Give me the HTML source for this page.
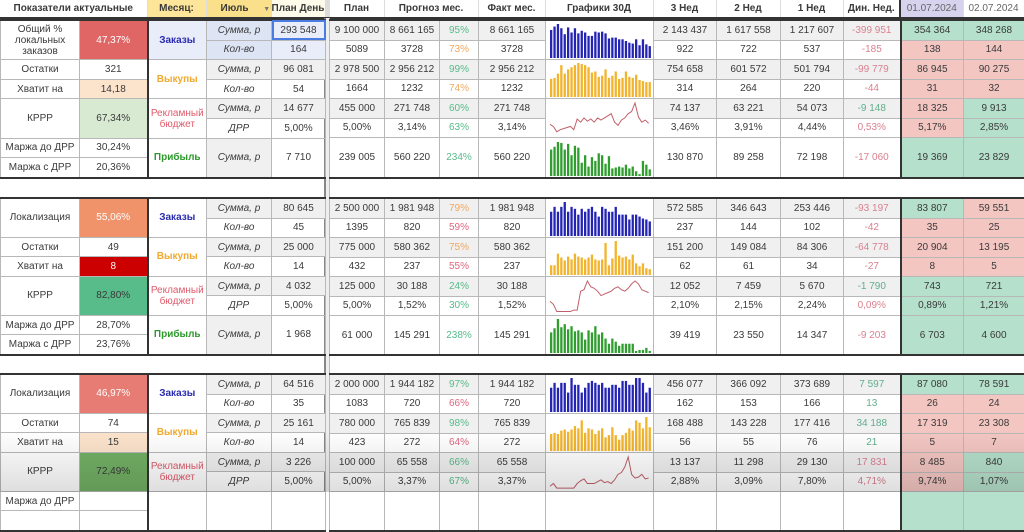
<!DOCTYPE html>
<html><head><meta charset="utf-8">
<style>
body{margin:0;width:1024px;height:492px;overflow:hidden;background:#fff;font-family:"Liberation Sans",sans-serif;font-size:10px;color:#3a3a3a;position:relative}
table{position:absolute;border-collapse:collapse;table-layout:fixed}
td{border:1px solid #b8b8b8;text-align:center;padding:0;overflow:hidden;white-space:nowrap;height:18px;line-height:11px}
tr.a td:not([rowspan]){border-bottom:1px dashed #8a8a8a}
.blk{border-top:2px solid #333;border-bottom:2px solid #333}
.th{border-right:2px solid #333}
.dl{border-left:2px solid #333}
.g{background:#f0f0f0}.G{background:#b5e0cb}.R{background:#f3c6c2}
.pg{color:#57bb8a}.po{color:#f0a860}.pr{color:#e06680}.dr{color:#d9808f}.dg{color:#5fae8c}
.i{font-style:italic}
.cz{color:#2b2bb0;font-weight:bold}.cv{color:#f0aa30;font-weight:bold}.cr{color:#e05a6a}.cp{color:#2e9a2e;font-weight:bold}
.hd td{font-weight:bold;height:17px;border:none;border-right:1px solid #ddd}
svg{display:block;margin:0 auto}
</style></head><body>

<table class="hd" style="left:0;top:0;width:1024px;border-bottom:2px solid #333">
<colgroup><col style="width:147px"><col style="width:59px"><col style="width:65px"><col style="width:54px"><col style="width:4px"><col style="width:55px"><col style="width:94px"><col style="width:67px"><col style="width:108px"><col style="width:63px"><col style="width:64px"><col style="width:63px"><col style="width:57px"><col style="width:63px"><col style="width:61px"></colgroup>
<tr><td>Показатели актуальные</td><td style="background:#fde59a">Месяц:</td><td style="background:#fbe08c;text-align:left;padding-left:14px">Июль <span style="font-size:7px;color:#777;margin-left:12px">▼</span></td><td style="background:#fffbea">План День</td><td style="background:#ddd"></td><td>План</td><td>Прогноз мес.</td><td>Факт мес.</td><td>Графики 30Д</td><td>3 Нед</td><td>2 Нед</td><td>1 Нед</td><td>Дин. Нед.</td><td style="background:#d7d3ee;color:#666;font-weight:normal;border-left:2px solid #333">01.07.2024</td><td style="color:#666;font-weight:normal">02.07.2024</td></tr>
</table>

<div style="position:absolute;left:324px;top:18px;width:2px;height:474px;background:#888"></div>
<div style="position:absolute;left:326px;top:18px;width:3px;height:474px;background:#eee;border-right:1px solid #bbb"></div>

<!-- BLOCK 1 LEFT -->
<table class="blk" style="left:0;top:19px;width:325px;height:160px">
<colgroup><col style="width:79px"><col style="width:68px"><col style="width:59px"><col style="width:65px"><col style="width:54px"></colgroup>
<tr class="a"><td rowspan="2">Общий %<br>локальных<br>заказов</td><td rowspan="2" class="th" style="background:#e06666;color:#fff">47,37%</td><td rowspan="2" class="cz" style="background:#e8edf9">Заказы</td><td class="i" style="background:#dde4f4">Сумма, р</td><td style="background:#e8edf9;outline:2px solid #4a7be0;outline-offset:-2px">293 548</td></tr>
<tr><td class="i" style="background:#dde4f4">Кол-во</td><td style="background:#e8edf9">164</td></tr>
<tr class="a"><td>Остатки</td><td class="th">321</td><td rowspan="2" class="cv">Выкупы</td><td class="i g">Сумма, р</td><td class="g">96 081</td></tr>
<tr><td>Хватит на</td><td class="th" style="background:#fce3cc">14,18</td><td class="i">Кол-во</td><td>54</td></tr>
<tr class="a"><td rowspan="2">КРРР</td><td rowspan="2" class="th" style="background:#d9ead3">67,34%</td><td rowspan="2" class="cr">Рекламный<br>бюджет</td><td class="i g">Сумма, р</td><td class="g">14 677</td></tr>
<tr><td class="i">ДРР</td><td>5,00%</td></tr>
<tr><td>Маржа до ДРР</td><td class="th">30,24%</td><td rowspan="2" class="cp">Прибыль</td><td rowspan="2" class="i g">Сумма, р</td><td rowspan="2">7 710</td></tr>
<tr><td>Маржа с ДРР</td><td class="th">20,36%</td></tr>
</table>

<!-- BLOCK 1 RIGHT -->
<table class="blk" style="left:329px;top:19px;width:695px;height:160px">
<colgroup><col style="width:55px"><col style="width:55px"><col style="width:39px"><col style="width:67px"><col style="width:108px"><col style="width:63px"><col style="width:64px"><col style="width:63px"><col style="width:57px"><col style="width:63px"><col style="width:61px"></colgroup>
<tr class="a g"><td>9 100 000</td><td>8 661 165</td><td class="pg">95%</td><td>8 661 165</td><td rowspan="2" style="background:#fff"><svg id="c1" width="104" height="38"></svg></td><td>2 143 437</td><td>1 617 558</td><td>1 217 607</td><td class="dr">-399 951</td><td class="G dl">354 364</td><td class="G">348 268</td></tr>
<tr><td>5089</td><td>3728</td><td class="po">73%</td><td>3728</td><td>922</td><td>722</td><td>537</td><td class="dr">-185</td><td class="R dl">138</td><td class="R">144</td></tr>
<tr class="a g"><td>2 978 500</td><td>2 956 212</td><td class="pg">99%</td><td>2 956 212</td><td rowspan="2" style="background:#fff"><svg id="c2" width="104" height="38"></svg></td><td>754 658</td><td>601 572</td><td>501 794</td><td class="dr">-99 779</td><td class="R dl">86 945</td><td class="R">90 275</td></tr>
<tr><td>1664</td><td>1232</td><td class="po">74%</td><td>1232</td><td>314</td><td>264</td><td>220</td><td class="dr">-44</td><td class="R dl">31</td><td class="R">32</td></tr>
<tr class="a g"><td>455 000</td><td>271 748</td><td class="pg">60%</td><td>271 748</td><td rowspan="2" style="background:#fff"><svg id="c3" width="104" height="38"></svg></td><td>74 137</td><td>63 221</td><td>54 073</td><td class="dg">-9 148</td><td class="R dl">18 325</td><td class="G">9 913</td></tr>
<tr><td>5,00%</td><td>3,14%</td><td class="pg">63%</td><td>3,14%</td><td>3,46%</td><td>3,91%</td><td>4,44%</td><td class="dr">0,53%</td><td class="R dl">5,17%</td><td class="G">2,85%</td></tr>
<tr><td rowspan="2">239 005</td><td rowspan="2">560 220</td><td rowspan="2" class="pg">234%</td><td rowspan="2">560 220</td><td rowspan="2"><svg id="c4" width="104" height="38"></svg></td><td rowspan="2">130 870</td><td rowspan="2">89 258</td><td rowspan="2">72 198</td><td rowspan="2" class="dr">-17 060</td><td rowspan="2" class="G dl">19 369</td><td rowspan="2" class="G">23 829</td></tr>
<tr></tr>
</table>

<!-- BLOCK 2 LEFT -->
<table class="blk" style="left:0;top:197px;width:325px;height:159px">
<colgroup><col style="width:79px"><col style="width:68px"><col style="width:59px"><col style="width:65px"><col style="width:54px"></colgroup>
<tr class="a"><td rowspan="2">Локализация</td><td rowspan="2" class="th" style="background:#f0936b;color:#fff">55,06%</td><td rowspan="2" class="cz">Заказы</td><td class="i g">Сумма, р</td><td class="g">80 645</td></tr>
<tr><td class="i">Кол-во</td><td>45</td></tr>
<tr class="a"><td>Остатки</td><td class="th">49</td><td rowspan="2" class="cv">Выкупы</td><td class="i g">Сумма, р</td><td class="g">25 000</td></tr>
<tr><td>Хватит на</td><td class="th" style="background:#cc0000;color:#fff">8</td><td class="i">Кол-во</td><td>14</td></tr>
<tr class="a"><td rowspan="2">КРРР</td><td rowspan="2" class="th" style="background:#57bb8a">82,80%</td><td rowspan="2" class="cr">Рекламный<br>бюджет</td><td class="i g">Сумма, р</td><td class="g">4 032</td></tr>
<tr><td class="i">ДРР</td><td>5,00%</td></tr>
<tr><td>Маржа до ДРР</td><td class="th">28,70%</td><td rowspan="2" class="cp">Прибыль</td><td rowspan="2" class="i g">Сумма, р</td><td rowspan="2">1 968</td></tr>
<tr><td>Маржа с ДРР</td><td class="th">23,76%</td></tr>
</table>

<!-- BLOCK 2 RIGHT -->
<table class="blk" style="left:329px;top:197px;width:695px;height:159px">
<colgroup><col style="width:55px"><col style="width:55px"><col style="width:39px"><col style="width:67px"><col style="width:108px"><col style="width:63px"><col style="width:64px"><col style="width:63px"><col style="width:57px"><col style="width:63px"><col style="width:61px"></colgroup>
<tr class="a g"><td>2 500 000</td><td>1 981 948</td><td class="po">79%</td><td>1 981 948</td><td rowspan="2" style="background:#fff"><svg id="c5" width="104" height="38"></svg></td><td>572 585</td><td>346 643</td><td>253 446</td><td class="dr">-93 197</td><td class="G dl">83 807</td><td class="R">59 551</td></tr>
<tr><td>1395</td><td>820</td><td class="pr">59%</td><td>820</td><td>237</td><td>144</td><td>102</td><td class="dr">-42</td><td class="R dl">35</td><td class="R">25</td></tr>
<tr class="a g"><td>775 000</td><td>580 362</td><td class="po">75%</td><td>580 362</td><td rowspan="2" style="background:#fff"><svg id="c6" width="104" height="38"></svg></td><td>151 200</td><td>149 084</td><td>84 306</td><td class="dr">-64 778</td><td class="R dl">20 904</td><td class="R">13 195</td></tr>
<tr><td>432</td><td>237</td><td class="pr">55%</td><td>237</td><td>62</td><td>61</td><td>34</td><td class="dr">-27</td><td class="R dl">8</td><td class="R">5</td></tr>
<tr class="a g"><td>125 000</td><td>30 188</td><td class="pg">24%</td><td>30 188</td><td rowspan="2" style="background:#fff"><svg id="c7" width="104" height="38"></svg></td><td>12 052</td><td>7 459</td><td>5 670</td><td class="dg">-1 790</td><td class="G dl">743</td><td class="G">721</td></tr>
<tr><td>5,00%</td><td>1,52%</td><td class="pg">30%</td><td>1,52%</td><td>2,10%</td><td>2,15%</td><td>2,24%</td><td class="dr">0,09%</td><td class="G dl">0,89%</td><td class="G">1,21%</td></tr>
<tr><td rowspan="2">61 000</td><td rowspan="2">145 291</td><td rowspan="2" class="pg">238%</td><td rowspan="2">145 291</td><td rowspan="2"><svg id="c8" width="104" height="38"></svg></td><td rowspan="2">39 419</td><td rowspan="2">23 550</td><td rowspan="2">14 347</td><td rowspan="2" class="dr">-9 203</td><td rowspan="2" class="G dl">6 703</td><td rowspan="2" class="G">4 600</td></tr>
<tr></tr>
</table>

<!-- BLOCK 3 LEFT -->
<table class="blk" style="left:0;top:373px;width:325px;height:159px">
<colgroup><col style="width:79px"><col style="width:68px"><col style="width:59px"><col style="width:65px"><col style="width:54px"></colgroup>
<tr class="a"><td rowspan="2">Локализация</td><td rowspan="2" class="th" style="background:#e67c73;color:#fff">46,97%</td><td rowspan="2" class="cz">Заказы</td><td class="i g">Сумма, р</td><td class="g">64 516</td></tr>
<tr><td class="i">Кол-во</td><td>35</td></tr>
<tr class="a"><td>Остатки</td><td class="th">74</td><td rowspan="2" class="cv">Выкупы</td><td class="i g">Сумма, р</td><td class="g">25 161</td></tr>
<tr><td>Хватит на</td><td class="th" style="background:#fce3cc">15</td><td class="i">Кол-во</td><td>14</td></tr>
<tr class="a"><td rowspan="2">КРРР</td><td rowspan="2" class="th" style="background:#72b064">72,49%</td><td rowspan="2" class="cr">Рекламный<br>бюджет</td><td class="i g">Сумма, р</td><td class="g">3 226</td></tr>
<tr><td class="i">ДРР</td><td>5,00%</td></tr>
<tr><td>Маржа до ДРР</td><td class="th"></td><td rowspan="2"></td><td rowspan="2"></td><td rowspan="2"></td></tr>
<tr><td></td><td class="th"></td></tr>
</table>

<!-- BLOCK 3 RIGHT -->
<table class="blk" style="left:329px;top:373px;width:695px;height:159px">
<colgroup><col style="width:55px"><col style="width:55px"><col style="width:39px"><col style="width:67px"><col style="width:108px"><col style="width:63px"><col style="width:64px"><col style="width:63px"><col style="width:57px"><col style="width:63px"><col style="width:61px"></colgroup>
<tr class="a g"><td>2 000 000</td><td>1 944 182</td><td class="pg">97%</td><td>1 944 182</td><td rowspan="2" style="background:#fff"><svg id="c9" width="104" height="38"></svg></td><td>456 077</td><td>366 092</td><td>373 689</td><td class="dg">7 597</td><td class="G dl">87 080</td><td class="G">78 591</td></tr>
<tr><td>1083</td><td>720</td><td class="pr">66%</td><td>720</td><td>162</td><td>153</td><td>166</td><td class="dg">13</td><td class="R dl">26</td><td class="R">24</td></tr>
<tr class="a g"><td>780 000</td><td>765 839</td><td class="pg">98%</td><td>765 839</td><td rowspan="2" style="background:#fff"><svg id="c10" width="104" height="38"></svg></td><td>168 488</td><td>143 228</td><td>177 416</td><td class="dg">34 188</td><td class="R dl">17 319</td><td class="R">23 308</td></tr>
<tr><td>423</td><td>272</td><td class="pr">64%</td><td>272</td><td>56</td><td>55</td><td>76</td><td class="dg">21</td><td class="R dl">5</td><td class="R">7</td></tr>
<tr class="a g"><td>100 000</td><td>65 558</td><td class="pg">66%</td><td>65 558</td><td rowspan="2" style="background:#fff"><svg id="c11" width="104" height="38"></svg></td><td>13 137</td><td>11 298</td><td>29 130</td><td class="dr">17 831</td><td class="R dl">8 485</td><td class="G">840</td></tr>
<tr><td>5,00%</td><td>3,37%</td><td class="pg">67%</td><td>3,37%</td><td>2,88%</td><td>3,09%</td><td>7,80%</td><td class="dr">4,71%</td><td class="R dl">9,74%</td><td class="G">1,07%</td></tr>
<tr><td rowspan="2"></td><td rowspan="2"></td><td rowspan="2"></td><td rowspan="2"></td><td rowspan="2"></td><td rowspan="2"></td><td rowspan="2"></td><td rowspan="2"></td><td rowspan="2"></td><td rowspan="2" class="G dl"></td><td rowspan="2" class="G"></td></tr>
<tr></tr>
</table>

<div style="position:absolute;left:0;top:430px;width:1024px;height:62px;background:linear-gradient(rgba(0,0,0,0),rgba(0,0,0,0.13));pointer-events:none"></div>

<script>
var NS="http://www.w3.org/2000/svg";
function bars(id,d,col){var s=document.getElementById(id),m=Math.max.apply(null,d);
for(var i=0;i<d.length;i++){var r=document.createElementNS(NS,"rect");var h=d[i]/m*34;
r.setAttribute("x",2+i*3.4);r.setAttribute("y",37-h);r.setAttribute("width",2.3);r.setAttribute("height",h);r.setAttribute("fill",col);s.appendChild(r);}}
function line(id,d){var s=document.getElementById(id),m=Math.max.apply(null,d),p=[];
for(var i=0;i<d.length;i++)p.push((2+i*3.4)+","+(36-d[i]/m*32));
var l=document.createElementNS(NS,"polyline");l.setAttribute("points",p.join(" "));l.setAttribute("fill","none");l.setAttribute("stroke","#c0606a");l.setAttribute("stroke-width","1");s.appendChild(l);}
var B="#2424b4",O="#f2b42c",G="#2f9e2f";
bars("c1",[33,37,40,35,28,36,30,35,29,32,30,26,26,31,30,31,29,23,24,24,22,22,20,18,17,22,15,22,16,14],B);
bars("c2",[17,18,22,30,22,26,28,30,32,31,30,28,23,24,19,20,26,18,20,24,17,18,24,19,18,21,16,15,14,14],O);
line("c3",[10,8,3,5,6,7,8,5,15,12,16,13,15,12,16,14,16,18,20,12,9,14,16,20,22,30,17,12,14,11]);
bars("c4",[28,31,36,35,28,34,22,32,30,14,22,10,20,16,24,22,13,21,8,9,10,9,12,8,10,5,2,16,12,7],G);
bars("c5",[25,30,25,30,35,25,30,28,22,28,25,28,30,25,20,30,28,25,25,30,22,22,22,17,22,22,20,18,17,15],B);
bars("c6",[10,10,22,18,15,19,16,22,19,18,16,18,21,16,15,16,33,10,17,35,20,18,19,16,21,12,9,12,7,6],O);
line("c7",[8,6,1,1,1,1,1,2,2,15,16,22,18,17,15,12,13,14,15,17,18,16,15,17,20,22,20,16,15,14]);
bars("c8",[20,24,33,25,28,23,26,21,22,20,13,22,20,26,18,20,14,9,14,11,7,9,9,9,9,2,3,3,5,2],G);
bars("c9",[25,30,25,30,30,20,35,28,28,20,25,30,32,30,28,30,25,25,28,28,25,32,32,28,28,35,35,30,20,25],B);
bars("c10",[15,16,15,18,19,17,19,22,20,27,16,20,19,15,18,20,12,14,21,14,10,14,16,20,18,27,25,20,30,21],O);
line("c11",[3,6,1,1,1,1,1,1,6,9,11,6,6,6,8,10,7,8,6,10,16,18,24,35,16,12,13,16,11,12]);
</script>
</body></html>
